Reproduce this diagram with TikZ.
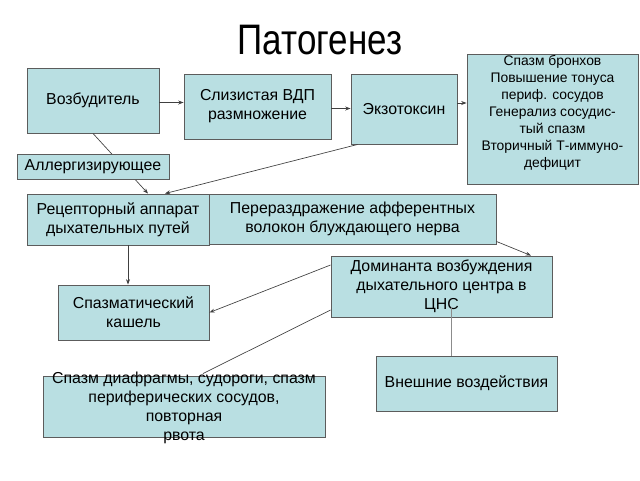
\documentclass[tikz,border=0pt]{standalone}
\usepackage{fontspec}
\setmainfont{Liberation Sans}
\usetikzlibrary{arrows.meta}

\newcommand\pxu{0.75pt}
\definecolor{boxfill}{HTML}{B9DFE2}
\definecolor{boxline}{HTML}{5C5C5C}

\tikzset{
  box/.style={draw=boxline, fill=boxfill, line width=0.7pt, align=center, inner sep=1pt,
    font=\fontsize{11.9}{14.25}\selectfont},
  smallbox/.style={font=\fontsize{10.4}{12.75}\selectfont},
  link/.style={draw=black!75, line width=0.5pt},
  arr/.style={link, -{Stealth[length=4pt,width=3pt]}}
}

\begin{document}
\begin{tikzpicture}[x=\pxu,y=-\pxu]
\useasboundingbox (0,0) rectangle (640,480);

\node (title) at (320,40.5) {\fontsize{32}{36}\selectfont\scalebox{0.82}[1]{Патогенез}};

\node[box, minimum width=132*\pxu, minimum height=65*\pxu] (vozb) at (93,100.5) {Возбудитель};
\node[box, minimum width=147*\pxu, minimum height=65*\pxu] (sliz) at (257.5,106.5) {Слизистая ВДП\\размножение};
\node[box, minimum width=106*\pxu, minimum height=70*\pxu] (ekzo) at (404,109) {Экзотоксин};
\node[box, smallbox, minimum width=171*\pxu, minimum height=130*\pxu, text height=0pt, text depth=3.8pt] (bronh) at (552.5,119)
  {\begin{tabular}{@{}c@{}}Спазм бронхов\\Повышение тонуса\\периф. сосудов\\Генерализ  сосудис-\\тый спазм\\Вторичный Т-иммуно-\\дефицит\end{tabular}};

\node[box, minimum width=182*\pxu, minimum height=51*\pxu] (recep) at (118,219.5) {Рецепторный аппарат\\дыхательных путей};
\node[box, minimum width=287*\pxu, minimum height=50*\pxu] (perer) at (352.5,219) {Перераздражение афферентных\\волокон блуждающего нерва};
\node[box, minimum width=151*\pxu, minimum height=55*\pxu] (kashel) at (133.5,312.5) {Спазматический\\кашель};
\node[box, minimum width=221*\pxu, minimum height=61*\pxu] (domin) at (441.5,286.5) {Доминанта возбуждения\\дыхательного центра в\\ЦНС};
\node[box, minimum width=282*\pxu, minimum height=61*\pxu, text height=8pt, text depth=0pt] (diafr) at (184,406.5)
  {\begin{tabular}{@{}c@{}}Спазм диафрагмы, судороги, спазм\\периферических сосудов,\\повторная\\рвота\end{tabular}};
\node[box, minimum width=181*\pxu, minimum height=55*\pxu] (vnesh) at (466.5,383.5) {Внешние воздействия};

\draw[arr] ([yshift=-2*\pxu]vozb.east) -- ([yshift=-2*\pxu]vozb.east -| sliz.west);
\draw[arr] ([yshift=-2*\pxu]sliz.east) -- ([yshift=-2*\pxu]sliz.east -| ekzo.west);
\draw[arr] ([yshift=6*\pxu]ekzo.east) -- ([yshift=6*\pxu]ekzo.east -| bronh.west);
\draw[arr] (vozb.south) -- ([xshift=30*\pxu]recep.north);
\draw[arr] ([xshift=7*\pxu]ekzo.south west) -- ([xshift=47*\pxu]recep.north);
\draw[arr] ([yshift=3*\pxu]perer.south east) -- ([xshift=89.5*\pxu]domin.north);
\draw[arr] ([xshift=10*\pxu]recep.south) -- ([xshift=-5.5*\pxu]kashel.north);
\draw[arr] ([yshift=21.5*\pxu]domin.west) -- (kashel.east);
\draw[link] ([yshift=-23.5*\pxu]domin.west) -- ([xshift=19*\pxu,yshift=2*\pxu]diafr.north);
\draw[link, draw=black!45] ([xshift=-15.5*\pxu]vnesh.north) -- ([xshift=9.5*\pxu,yshift=10*\pxu]domin.south);

\node[box, minimum width=152*\pxu, minimum height=25*\pxu] (allerg) at (93,166.5) {Аллергизирующее};

\end{tikzpicture}
\end{document}
